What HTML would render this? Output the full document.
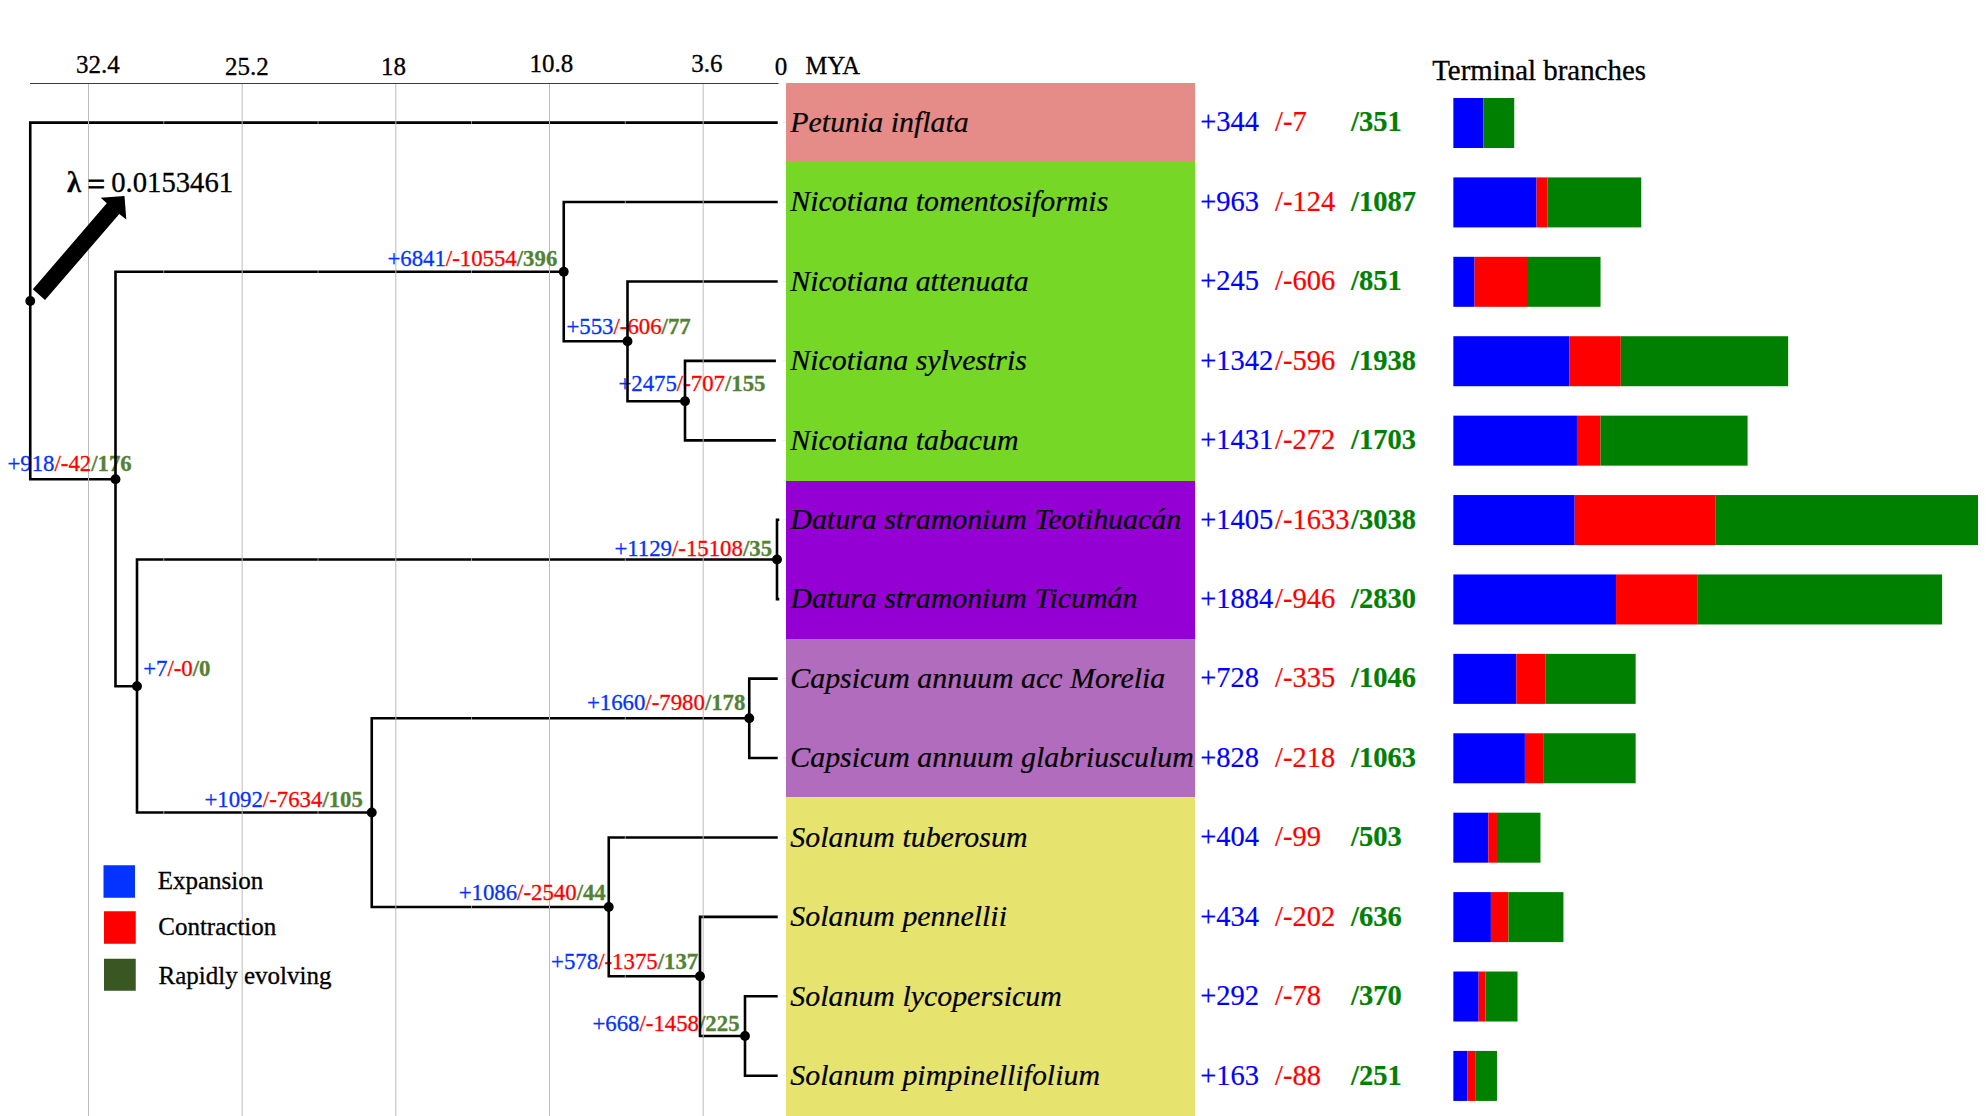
<!DOCTYPE html>
<html lang="en"><head><meta charset="utf-8"><title>Gene family expansion and contraction</title>
<style>
html,body{margin:0;padding:0;background:#fff;}
body{width:1986px;height:1116px;overflow:hidden;}
svg{display:block;font-family:"Liberation Serif","Times New Roman",serif;}
.sp{font-style:italic;font-size:29.9px;fill:#000;stroke:#000;stroke-width:0.2;}
.ax{font-size:25px;fill:#000;} .ax,.lg,.tm,.lam{stroke:#000;stroke-width:0.3;}
.nl{font-size:22.8px;}
.tv{font-size:28.5px;}
.nl{stroke-width:0.3;stroke-linejoin:round;} .b{fill:#0433ff;stroke:#0433ff;} .r{fill:#ff0000;stroke:#ff0000;} .g{fill:#548235;stroke:#548235;font-weight:bold;}
.tv{stroke-width:0.2;} .B{fill:#0000ff;stroke:#0000ff;} .R{fill:#ff0000;stroke:#ff0000;} .G{fill:#008000;stroke:#008000;font-weight:bold;}
.lg{font-size:25px;fill:#000;}
.tr{stroke:#000;stroke-width:2.6;fill:none;stroke-linecap:square;}
.gr{stroke:#bcbcbc;stroke-width:1;}
</style></head><body>
<svg width="1986" height="1116" viewBox="0 0 1986 1116">
<rect width="1986" height="1116" fill="#fff"/>
<line x1="30" y1="83.5" x2="778.5" y2="83.5" stroke="#3a3a3a" stroke-width="1"/>
<text class="ax" x="76" y="73.25">32.4</text>
<text class="ax" x="225" y="75">25.2</text>
<text class="ax" x="381" y="75">18</text>
<text class="ax" x="529.5" y="72">10.8</text>
<text class="ax" x="691.2" y="72">3.6</text>
<text class="ax" x="774.75" y="74.5">0</text>
<text class="ax" style="font-size:24.5px" x="805.6" y="74.25">MYA</text>
<rect x="786" y="83" width="409.0999999999999" height="79" fill="#e58b88"/>
<rect x="786" y="162" width="409.0999999999999" height="319" fill="#76d727"/>
<rect x="786" y="481" width="409.0999999999999" height="158" fill="#9400d3"/>
<rect x="786" y="639" width="409.0999999999999" height="158" fill="#b26cbe"/>
<rect x="786" y="797" width="409.0999999999999" height="319" fill="#e6e46e"/>
<line class="gr" x1="88.5" y1="84" x2="88.5" y2="1116"/>
<line class="gr" x1="242.17" y1="84" x2="242.17" y2="1116"/>
<line class="gr" x1="395.83" y1="84" x2="395.83" y2="1116"/>
<line class="gr" x1="549.5" y1="84" x2="549.5" y2="1116"/>
<line class="gr" x1="703.17" y1="84" x2="703.17" y2="1116"/>
<line x1="782.5" y1="122.65" x2="786" y2="122.65" stroke="#ececec" stroke-width="1"/>
<line x1="782.5" y1="202.07" x2="786" y2="202.07" stroke="#ececec" stroke-width="1"/>
<line x1="782.5" y1="281.49" x2="786" y2="281.49" stroke="#ececec" stroke-width="1"/>
<line x1="782.5" y1="360.91" x2="786" y2="360.91" stroke="#ececec" stroke-width="1"/>
<line x1="782.5" y1="440.33" x2="786" y2="440.33" stroke="#ececec" stroke-width="1"/>
<line x1="782.5" y1="519.75" x2="786" y2="519.75" stroke="#ececec" stroke-width="1"/>
<line x1="782.5" y1="599.17" x2="786" y2="599.17" stroke="#ececec" stroke-width="1"/>
<line x1="782.5" y1="678.59" x2="786" y2="678.59" stroke="#ececec" stroke-width="1"/>
<line x1="782.5" y1="758.01" x2="786" y2="758.01" stroke="#ececec" stroke-width="1"/>
<line x1="782.5" y1="837.43" x2="786" y2="837.43" stroke="#ececec" stroke-width="1"/>
<line x1="782.5" y1="916.85" x2="786" y2="916.85" stroke="#ececec" stroke-width="1"/>
<line x1="782.5" y1="996.27" x2="786" y2="996.27" stroke="#ececec" stroke-width="1"/>
<line x1="782.5" y1="1075.69" x2="786" y2="1075.69" stroke="#ececec" stroke-width="1"/>
<polygon points="32.8,289.3 106.8,203.3 100.7,197.7 124.5,196.1 126.3,219.6 119.3,214.1 45.05,300" fill="#000"/>
<text class="lam" x="67" y="191.75" font-size="28.7" font-weight="bold">λ</text>
<text class="lam" x="87.5" y="195.2" font-size="31" style="stroke-width:0.9">=</text>
<text class="lam" x="111.2" y="191.75" font-size="28.7">0.0153461</text>
<text class="nl" x="7.40" y="471.45"><tspan class="b">+918</tspan><tspan class="r">/-42</tspan><tspan class="g">/<tspan>176</tspan></tspan></text>
<text class="nl" x="387.40" y="265.70"><tspan class="b">+6841</tspan><tspan class="r">/-10554</tspan><tspan class="g">/<tspan>396</tspan></tspan></text>
<text class="nl" x="566.40" y="333.70"><tspan class="b">+553</tspan><tspan class="r">/-606</tspan><tspan class="g">/<tspan>77</tspan></tspan></text>
<text class="nl" x="618.40" y="391.20"><tspan class="b">+2475</tspan><tspan class="r">/-707</tspan><tspan class="g">/<tspan>155</tspan></tspan></text>
<text class="nl" x="614.40" y="555.70"><tspan class="b">+1129</tspan><tspan class="r">/-15108</tspan><tspan class="g">/<tspan>35</tspan></tspan></text>
<text class="nl" x="143.15" y="676.45"><tspan class="b">+7</tspan><tspan class="r">/-0</tspan><tspan class="g">/<tspan>0</tspan></tspan></text>
<text class="nl" x="586.90" y="710.20"><tspan class="b">+1660</tspan><tspan class="r">/-7980</tspan><tspan class="g">/<tspan>178</tspan></tspan></text>
<text class="nl" x="204.40" y="806.95"><tspan class="b">+1092</tspan><tspan class="r">/-7634</tspan><tspan class="g">/<tspan>105</tspan></tspan></text>
<text class="nl" x="458.65" y="900.20"><tspan class="b">+1086</tspan><tspan class="r">/-2540</tspan><tspan class="g">/<tspan>44</tspan></tspan></text>
<text class="nl" x="551.10" y="968.70"><tspan class="b">+578</tspan><tspan class="r">/-1375</tspan><tspan class="g">/<tspan>137</tspan></tspan></text>
<text class="nl" x="592.40" y="1031.30"><tspan class="b">+668</tspan><tspan class="r">/-1458</tspan><tspan class="g">/<tspan>225</tspan></tspan></text>
<path class="tr" d="M30.25 122.65H776.4M30.25 122.65V479.25M30.25 479.25H115.5M115.5 271.75V686.25M115.5 271.75H563.75M563.75 202.07V341.25M563.75 202.07H776.4M563.75 341.25H627.5M627.5 281.49V401.25M627.5 281.49H776.4M627.5 401.25H685M685 360.90999999999997V440.33000000000004M685 360.90999999999997H774.6M685 440.33000000000004H774.6M115.5 686.25H137M137 559.5V812.5M137 559.5H777M777 519.75V599.17M777 519.75H778M777 599.17H778M137 812.5H371.75M371.75 718.25V907M371.75 718.25H749.25M749.25 678.59V758.01M749.25 678.59H776.4M749.25 758.01H776.4M371.75 907H608.75M608.75 837.43V976.25M608.75 837.43H776.4M608.75 976.25H700M700 916.85V1036M700 916.85H776.4M700 1036H745M745 996.27V1075.69M745 996.27H776.4M745 1075.69H776.4"/>
<line class="gr" x1="88.5" y1="121.05" x2="88.5" y2="124.25"/>
<line class="gr" x1="242.17" y1="121.05" x2="242.17" y2="124.25"/>
<line class="gr" x1="395.83" y1="121.05" x2="395.83" y2="124.25"/>
<line class="gr" x1="549.5" y1="121.05" x2="549.5" y2="124.25"/>
<line class="gr" x1="703.17" y1="121.05" x2="703.17" y2="124.25"/>
<line x1="163.75" y1="121.05" x2="163.75" y2="124.25" stroke="#fff" stroke-width="0.7" opacity="0.75"/>
<line x1="318" y1="121.05" x2="318" y2="124.25" stroke="#fff" stroke-width="0.7" opacity="0.75"/>
<line x1="471.5" y1="121.05" x2="471.5" y2="124.25" stroke="#fff" stroke-width="0.7" opacity="0.75"/>
<line x1="625.25" y1="121.05" x2="625.25" y2="124.25" stroke="#fff" stroke-width="0.7" opacity="0.75"/>
<line class="gr" x1="88.5" y1="477.65" x2="88.5" y2="480.85"/>
<line class="gr" x1="242.17" y1="270.15" x2="242.17" y2="273.35"/>
<line class="gr" x1="395.83" y1="270.15" x2="395.83" y2="273.35"/>
<line class="gr" x1="549.5" y1="270.15" x2="549.5" y2="273.35"/>
<line x1="163.75" y1="270.15" x2="163.75" y2="273.35" stroke="#fff" stroke-width="0.7" opacity="0.75"/>
<line x1="318" y1="270.15" x2="318" y2="273.35" stroke="#fff" stroke-width="0.7" opacity="0.75"/>
<line x1="471.5" y1="270.15" x2="471.5" y2="273.35" stroke="#fff" stroke-width="0.7" opacity="0.75"/>
<line class="gr" x1="703.17" y1="200.47" x2="703.17" y2="203.67"/>
<line x1="625.25" y1="200.47" x2="625.25" y2="203.67" stroke="#fff" stroke-width="0.7" opacity="0.75"/>
<line x1="625.25" y1="339.65" x2="625.25" y2="342.85" stroke="#fff" stroke-width="0.7" opacity="0.75"/>
<line class="gr" x1="703.17" y1="279.89" x2="703.17" y2="283.09"/>
<line class="gr" x1="703.17" y1="359.31" x2="703.17" y2="362.51"/>
<line class="gr" x1="703.17" y1="438.73" x2="703.17" y2="441.93"/>
<line class="gr" x1="242.17" y1="557.90" x2="242.17" y2="561.10"/>
<line class="gr" x1="395.83" y1="557.90" x2="395.83" y2="561.10"/>
<line class="gr" x1="549.5" y1="557.90" x2="549.5" y2="561.10"/>
<line class="gr" x1="703.17" y1="557.90" x2="703.17" y2="561.10"/>
<line x1="163.75" y1="557.90" x2="163.75" y2="561.10" stroke="#fff" stroke-width="0.7" opacity="0.75"/>
<line x1="318" y1="557.90" x2="318" y2="561.10" stroke="#fff" stroke-width="0.7" opacity="0.75"/>
<line x1="471.5" y1="557.90" x2="471.5" y2="561.10" stroke="#fff" stroke-width="0.7" opacity="0.75"/>
<line x1="625.25" y1="557.90" x2="625.25" y2="561.10" stroke="#fff" stroke-width="0.7" opacity="0.75"/>
<line class="gr" x1="242.17" y1="810.90" x2="242.17" y2="814.10"/>
<line x1="163.75" y1="810.90" x2="163.75" y2="814.10" stroke="#fff" stroke-width="0.7" opacity="0.75"/>
<line x1="318" y1="810.90" x2="318" y2="814.10" stroke="#fff" stroke-width="0.7" opacity="0.75"/>
<line class="gr" x1="395.83" y1="716.65" x2="395.83" y2="719.85"/>
<line class="gr" x1="549.5" y1="716.65" x2="549.5" y2="719.85"/>
<line class="gr" x1="703.17" y1="716.65" x2="703.17" y2="719.85"/>
<line x1="471.5" y1="716.65" x2="471.5" y2="719.85" stroke="#fff" stroke-width="0.7" opacity="0.75"/>
<line x1="625.25" y1="716.65" x2="625.25" y2="719.85" stroke="#fff" stroke-width="0.7" opacity="0.75"/>
<line class="gr" x1="395.83" y1="905.40" x2="395.83" y2="908.60"/>
<line class="gr" x1="549.5" y1="905.40" x2="549.5" y2="908.60"/>
<line x1="471.5" y1="905.40" x2="471.5" y2="908.60" stroke="#fff" stroke-width="0.7" opacity="0.75"/>
<line class="gr" x1="703.17" y1="835.83" x2="703.17" y2="839.03"/>
<line x1="625.25" y1="835.83" x2="625.25" y2="839.03" stroke="#fff" stroke-width="0.7" opacity="0.75"/>
<line x1="625.25" y1="974.65" x2="625.25" y2="977.85" stroke="#fff" stroke-width="0.7" opacity="0.75"/>
<line class="gr" x1="703.17" y1="915.25" x2="703.17" y2="918.45"/>
<line class="gr" x1="703.17" y1="1034.40" x2="703.17" y2="1037.60"/>
<circle cx="30.25" cy="301" r="4.95" fill="#000"/>
<circle cx="115.5" cy="479.25" r="4.95" fill="#000"/>
<circle cx="563.75" cy="271.75" r="4.95" fill="#000"/>
<circle cx="627.5" cy="341.25" r="4.95" fill="#000"/>
<circle cx="685" cy="401.25" r="4.95" fill="#000"/>
<circle cx="137" cy="686.25" r="4.95" fill="#000"/>
<circle cx="777" cy="559.5" r="4.95" fill="#000"/>
<circle cx="371.75" cy="812.5" r="4.95" fill="#000"/>
<circle cx="749.25" cy="718.25" r="4.95" fill="#000"/>
<circle cx="608.75" cy="907" r="4.95" fill="#000"/>
<circle cx="700" cy="976.25" r="4.95" fill="#000"/>
<circle cx="745" cy="1036" r="4.95" fill="#000"/>
<rect x="103.5" y="865.25" width="31.5" height="32.5" fill="#0433ff"/>
<text class="lg" x="157.75" y="889.4">Expansion</text>
<rect x="104" y="911.25" width="31.75" height="32.5" fill="#ff0000"/>
<text class="lg" x="158.25" y="935.4">Contraction</text>
<rect x="104" y="958.75" width="31.75" height="32" fill="#385723"/>
<text class="lg" x="158.5" y="983.65">Rapidly evolving</text>
<text x="1432.2" y="80" font-size="28.9" class="tm">Terminal branches</text>
<text class="sp" x="790.3" y="131.90">Petunia inflata</text>
<text class="tv B" x="1200.3" y="131.40">+344</text>
<text class="tv R" x="1275" y="131.40">/-7</text>
<text class="tv G" x="1351" y="131.40">/351</text>
<rect x="1453.35" y="98.00" width="29.79" height="50" fill="#0000ff"/>
<rect x="1483.14" y="98.00" width="0.70" height="50" fill="#ff0000"/>
<rect x="1483.84" y="98.00" width="30.39" height="50" fill="#008000"/>
<text class="sp" x="790.3" y="211.33">Nicotiana tomentosiformis</text>
<text class="tv B" x="1200.3" y="210.83">+963</text>
<text class="tv R" x="1275" y="210.83">/-124</text>
<text class="tv G" x="1351" y="210.83">/1087</text>
<rect x="1453.35" y="177.41" width="83.21" height="50" fill="#0000ff"/>
<rect x="1536.56" y="177.41" width="10.80" height="50" fill="#ff0000"/>
<rect x="1547.36" y="177.41" width="93.91" height="50" fill="#008000"/>
<text class="sp" x="790.3" y="290.76">Nicotiana attenuata</text>
<text class="tv B" x="1200.3" y="290.26">+245</text>
<text class="tv R" x="1275" y="290.26">/-606</text>
<text class="tv G" x="1351" y="290.26">/851</text>
<rect x="1453.35" y="256.82" width="21.24" height="50" fill="#0000ff"/>
<rect x="1474.59" y="256.82" width="52.40" height="50" fill="#ff0000"/>
<rect x="1526.99" y="256.82" width="73.54" height="50" fill="#008000"/>
<text class="sp" x="790.3" y="370.19">Nicotiana sylvestris</text>
<text class="tv B" x="1200.3" y="369.69">+1342</text>
<text class="tv R" x="1275" y="369.69">/-596</text>
<text class="tv G" x="1351" y="369.69">/1938</text>
<rect x="1453.35" y="336.23" width="115.91" height="50" fill="#0000ff"/>
<rect x="1569.26" y="336.23" width="51.53" height="50" fill="#ff0000"/>
<rect x="1620.80" y="336.23" width="167.35" height="50" fill="#008000"/>
<text class="sp" x="790.3" y="449.62">Nicotiana tabacum</text>
<text class="tv B" x="1200.3" y="449.12">+1431</text>
<text class="tv R" x="1275" y="449.12">/-272</text>
<text class="tv G" x="1351" y="449.12">/1703</text>
<rect x="1453.35" y="415.64" width="123.60" height="50" fill="#0000ff"/>
<rect x="1576.95" y="415.64" width="23.57" height="50" fill="#ff0000"/>
<rect x="1600.52" y="415.64" width="147.07" height="50" fill="#008000"/>
<text class="sp" x="790.3" y="529.05">Datura stramonium Teotihuacán</text>
<text class="tv B" x="1200.3" y="528.55">+1405</text>
<text class="tv R" x="1275" y="528.55">/-1633</text>
<text class="tv G" x="1351" y="528.55">/3038</text>
<rect x="1453.35" y="495.05" width="121.35" height="50" fill="#0000ff"/>
<rect x="1574.70" y="495.05" width="141.03" height="50" fill="#ff0000"/>
<rect x="1715.73" y="495.05" width="262.28" height="50" fill="#008000"/>
<text class="sp" x="790.3" y="608.48">Datura stramonium Ticumán</text>
<text class="tv B" x="1200.3" y="607.98">+1884</text>
<text class="tv R" x="1275" y="607.98">/-946</text>
<text class="tv G" x="1351" y="607.98">/2830</text>
<rect x="1453.35" y="574.46" width="162.69" height="50" fill="#0000ff"/>
<rect x="1616.04" y="574.46" width="81.74" height="50" fill="#ff0000"/>
<rect x="1697.78" y="574.46" width="244.33" height="50" fill="#008000"/>
<text class="sp" x="790.3" y="687.91">Capsicum annuum acc Morelia</text>
<text class="tv B" x="1200.3" y="687.41">+728</text>
<text class="tv R" x="1275" y="687.41">/-335</text>
<text class="tv G" x="1351" y="687.41">/1046</text>
<rect x="1453.35" y="653.87" width="62.93" height="50" fill="#0000ff"/>
<rect x="1516.28" y="653.87" width="29.01" height="50" fill="#ff0000"/>
<rect x="1545.29" y="653.87" width="90.37" height="50" fill="#008000"/>
<text class="sp" x="790.3" y="767.34">Capsicum annuum glabriusculum</text>
<text class="tv B" x="1200.3" y="766.84">+828</text>
<text class="tv R" x="1275" y="766.84">/-218</text>
<text class="tv G" x="1351" y="766.84">/1063</text>
<rect x="1453.35" y="733.28" width="71.56" height="50" fill="#0000ff"/>
<rect x="1524.91" y="733.28" width="18.91" height="50" fill="#ff0000"/>
<rect x="1543.82" y="733.28" width="91.84" height="50" fill="#008000"/>
<text class="sp" x="790.3" y="846.77">Solanum tuberosum</text>
<text class="tv B" x="1200.3" y="846.27">+404</text>
<text class="tv R" x="1275" y="846.27">/-99</text>
<text class="tv G" x="1351" y="846.27">/503</text>
<rect x="1453.35" y="812.69" width="34.97" height="50" fill="#0000ff"/>
<rect x="1488.32" y="812.69" width="8.64" height="50" fill="#ff0000"/>
<rect x="1496.96" y="812.69" width="43.51" height="50" fill="#008000"/>
<text class="sp" x="790.3" y="926.20">Solanum pennellii</text>
<text class="tv B" x="1200.3" y="925.70">+434</text>
<text class="tv R" x="1275" y="925.70">/-202</text>
<text class="tv G" x="1351" y="925.70">/636</text>
<rect x="1453.35" y="892.10" width="37.55" height="50" fill="#0000ff"/>
<rect x="1490.90" y="892.10" width="17.53" height="50" fill="#ff0000"/>
<rect x="1508.44" y="892.10" width="54.99" height="50" fill="#008000"/>
<text class="sp" x="790.3" y="1005.63">Solanum lycopersicum</text>
<text class="tv B" x="1200.3" y="1005.13">+292</text>
<text class="tv R" x="1275" y="1005.13">/-78</text>
<text class="tv G" x="1351" y="1005.13">/370</text>
<rect x="1453.35" y="971.51" width="25.30" height="50" fill="#0000ff"/>
<rect x="1478.65" y="971.51" width="6.83" height="50" fill="#ff0000"/>
<rect x="1485.48" y="971.51" width="32.03" height="50" fill="#008000"/>
<text class="sp" x="790.3" y="1085.06">Solanum pimpinellifolium</text>
<text class="tv B" x="1200.3" y="1084.56">+163</text>
<text class="tv R" x="1275" y="1084.56">/-88</text>
<text class="tv G" x="1351" y="1084.56">/251</text>
<rect x="1453.35" y="1050.92" width="14.17" height="50" fill="#0000ff"/>
<rect x="1467.52" y="1050.92" width="7.69" height="50" fill="#ff0000"/>
<rect x="1475.21" y="1050.92" width="21.76" height="50" fill="#008000"/>
</svg></body></html>
